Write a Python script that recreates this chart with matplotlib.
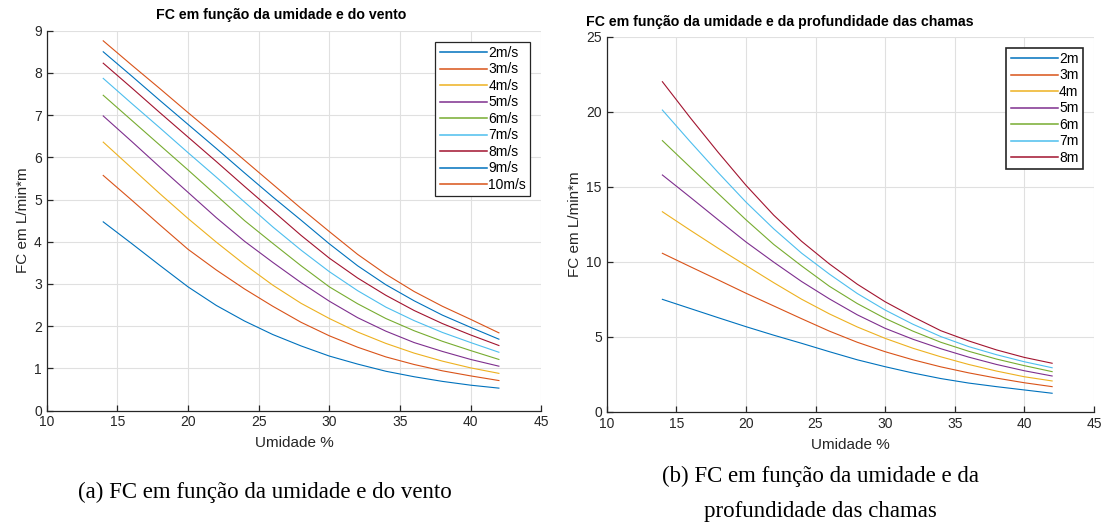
import matplotlib
matplotlib.use("Agg")
import matplotlib.pyplot as plt

# umidade (%) sample points
umidade = [14, 16, 18, 20, 22, 24, 26, 28, 30, 32, 34, 36, 38, 40, 42]

# FC vs umidade for wind speeds (left plot)
vento_labels = ["2m/s", "3m/s", "4m/s", "5m/s", "6m/s", "7m/s", "8m/s", "9m/s", "10m/s"]
fc_2ms = [4.47, 3.96, 3.44, 2.93, 2.49, 2.12, 1.80, 1.53, 1.29, 1.10, 0.93, 0.80, 0.69, 0.60, 0.53]
fc_3ms = [5.57, 4.99, 4.40, 3.82, 3.33, 2.88, 2.47, 2.09, 1.77, 1.50, 1.27, 1.09, 0.94, 0.82, 0.71]
fc_4ms = [6.36, 5.75, 5.14, 4.55, 3.99, 3.46, 2.97, 2.54, 2.18, 1.86, 1.59, 1.36, 1.17, 1.01, 0.88]
fc_5ms = [6.98, 6.38, 5.77, 5.17, 4.57, 4.01, 3.51, 3.03, 2.59, 2.20, 1.88, 1.61, 1.40, 1.21, 1.05]
fc_6ms = [7.47, 6.88, 6.29, 5.70, 5.10, 4.50, 3.96, 3.43, 2.93, 2.53, 2.18, 1.89, 1.64, 1.42, 1.21]
fc_7ms = [7.87, 7.28, 6.70, 6.11, 5.53, 4.94, 4.35, 3.80, 3.29, 2.84, 2.45, 2.13, 1.85, 1.61, 1.38]
fc_8ms = [8.23, 7.65, 7.06, 6.48, 5.90, 5.31, 4.73, 4.15, 3.61, 3.14, 2.73, 2.37, 2.06, 1.79, 1.54]
fc_9ms = [8.50, 7.93, 7.35, 6.78, 6.21, 5.63, 5.06, 4.51, 3.95, 3.43, 2.98, 2.60, 2.26, 1.97, 1.69]
fc_10ms = [8.76, 8.19, 7.63, 7.06, 6.50, 5.93, 5.36, 4.79, 4.24, 3.70, 3.23, 2.82, 2.47, 2.16, 1.84]

# FC vs umidade for flame depths (right plot)
prof_labels = ["2m", "3m", "4m", "5m", "6m", "7m", "8m"]
fc_2m = [7.49, 6.88, 6.27, 5.67, 5.10, 4.56, 4.00, 3.46, 3.00, 2.58, 2.21, 1.91, 1.67, 1.45, 1.23]
fc_3m = [10.56, 9.67, 8.79, 7.90, 7.05, 6.20, 5.37, 4.63, 4.00, 3.46, 2.99, 2.59, 2.24, 1.93, 1.67]
fc_4m = [13.33, 12.10, 10.90, 9.75, 8.60, 7.50, 6.52, 5.65, 4.89, 4.23, 3.66, 3.15, 2.71, 2.33, 2.05]
fc_5m = [15.78, 14.30, 12.80, 11.32, 9.97, 8.68, 7.52, 6.46, 5.56, 4.83, 4.20, 3.64, 3.15, 2.73, 2.38]
fc_6m = [18.07, 16.30, 14.55, 12.80, 11.15, 9.72, 8.36, 7.21, 6.22, 5.37, 4.63, 4.03, 3.51, 3.07, 2.67]
fc_7m = [20.11, 18.00, 15.95, 13.98, 12.19, 10.57, 9.17, 7.88, 6.78, 5.83, 5.01, 4.34, 3.80, 3.33, 2.93]
fc_8m = [22.00, 19.60, 17.30, 15.10, 13.10, 11.36, 9.85, 8.50, 7.33, 6.33, 5.40, 4.72, 4.12, 3.62, 3.23]

matlab_colors = ["#0072BD", "#D95319", "#EDB120", "#7E2F8E", "#77AC30", "#4DBEEE", "#A2142F"]

plt.rcParams["font.family"] = ["Liberation Sans", "DejaVu Sans"]
plt.rcParams["axes.prop_cycle"] = matplotlib.cycler(color=matlab_colors)

W, H = 1108, 531
fig = plt.figure(figsize=(W / 100, H / 100), dpi=100)


def px_axes(x0, x1, y0, y1):
    # pixel box -> figure fraction
    return fig.add_axes([x0 / W, 1 - y1 / H, (x1 - x0) / W, (y1 - y0) / H])


def style(ax):
    ax.grid(True, color="#e0e0e0", linewidth=0.8)
    ax.set_axisbelow(True)
    for s in ["top", "right"]:
        ax.spines[s].set_visible(False)
    for s in ["left", "bottom"]:
        ax.spines[s].set_color("#262626")
        ax.spines[s].set_linewidth(0.9)
    ax.tick_params(direction="in", length=4, width=0.9, colors="#262626", labelsize=10)
    ax.set_xlim(10, 45)
    ax.set_xticks(range(10, 46, 5))


def legend(ax, lw):
    leg = ax.legend(loc="upper right", fontsize=10, fancybox=False, framealpha=1,
                    edgecolor="#262626", handlelength=3.4, handletextpad=0.1,
                    labelspacing=0.18, borderpad=0.3, borderaxespad=0.8)
    leg.get_frame().set_linewidth(lw)
    for h in leg.get_lines():
        h.set_linewidth(1.1)


ax1 = px_axes(46.7, 541.3, 30.7, 410.5)
series_left = [fc_2ms, fc_3ms, fc_4ms, fc_5ms, fc_6ms, fc_7ms, fc_8ms, fc_9ms, fc_10ms]
for vals, lab in zip(series_left, vento_labels):
    ax1.plot(umidade, vals, linewidth=0.8, label=lab)
style(ax1)
ax1.set_ylim(0, 9)
ax1.set_yticks(range(0, 10))
legend(ax1, 0.9)

ax2 = px_axes(606.7, 1093.9, 36.7, 411.7)
series_right = [fc_2m, fc_3m, fc_4m, fc_5m, fc_6m, fc_7m, fc_8m]
for vals, lab in zip(series_right, prof_labels):
    ax2.plot(umidade, vals, linewidth=0.8, label=lab)
style(ax2)
ax2.set_ylim(0, 25)
ax2.set_yticks(range(0, 26, 5))
legend(ax2, 1.2)

for ax in (ax1, ax2):
    ax.set_xlabel("Umidade %", fontsize=11, color="#262626", labelpad=5)
    ax.set_ylabel("FC em L/min*m", fontsize=11, color="#262626", labelpad=3)

fig.text(281 / W, 1 - 15 / H, "FC em função da umidade e do vento",
         ha="center", va="center", fontsize=10.2, fontweight="bold")
fig.text(780 / W, 1 - 22 / H, "FC em função da umidade e da profundidade das chamas",
         ha="center", va="center", fontsize=10.2, fontweight="bold")

serif = ["Liberation Serif", "DejaVu Serif"]
fig.text(265 / W, 1 - 492 / H, "(a) FC em função da umidade e do vento",
         ha="center", va="center", fontsize=16.5, family=serif)
fig.text(820 / W, 1 - 476 / H, "(b) FC em função da umidade e da",
         ha="center", va="center", fontsize=16.5, family=serif)
fig.text(820 / W, 1 - 512 / H, "profundidade das chamas",
         ha="center", va="center", fontsize=16.5, family=serif)

fig.savefig("out.png", dpi=100)
